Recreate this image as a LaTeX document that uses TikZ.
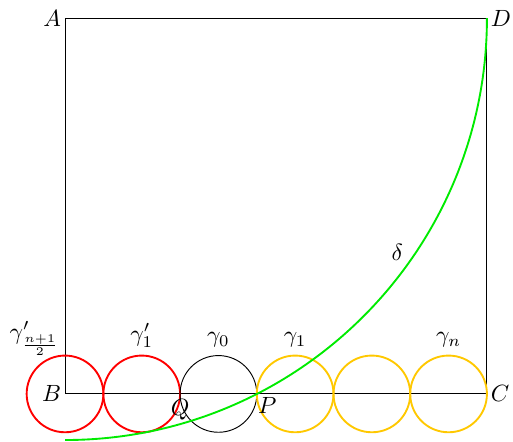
\documentclass[tikz,border=0pt]{standalone}
\usepackage{amsmath,amssymb}
\usepackage{tikz}
\usetikzlibrary{positioning,calc}
\definecolor{gold}{RGB}{255,200,0}
\definecolor{arcgreen}{RGB}{0,235,0}

\begin{document}
\begin{tikzpicture}[x=0.574cm,y=0.574cm]
						\useasboundingbox (-1.695,-1.251) rectangle (11.68,10.27);
						% corners of the rectangle
						\coordinate (B) at (0,0);
						\coordinate (C) at (11,0);
						\coordinate (D) at (11,{sqrt(96)});
						\coordinate (A) at (0,{sqrt(96)});
						\draw (A) -- (B) -- (C) -- (D) -- cycle;
						\node[left, inner sep=1.5pt] (lA) at (A) {$A$};
						\node[right, inner sep=1.5pt] (lD) at (D) {$D$};
						\node[left, inner sep=1.5pt] (lB) at (B) {$B$};
						\node[right, inner sep=1.5pt] (lC) at (C) {$C$};
						% circles along BC
						\foreach \i in {0,2} {
							\draw[thick, red] (\i,0) circle (1);
						}
						\draw (4,0) circle (1);
						\foreach \i in {6,8,10} {
							\draw[thick, gold] (\i,0) circle (1);
						}
						\draw[thick, arcgreen] (D) arc (0:-90:11);
						\coordinate (Q) at (3,0);
						\coordinate (P) at (5,0);
						\node[below=-1pt] (lQ) at (Q) {$Q$};
						\node[below right=-2pt and -3pt] (lP) at (P) {$P$};
						\node (lg) at (-0.8,1.45) {$\gamma'_{\frac{n+1}{2}}$};
						\node[above] (lg1p) at (2,1) {$\gamma'_1$};
						\node[above] (lg0) at (4,1) {$\gamma_0$};
						\node[above] (lg1) at (6,1) {$\gamma_1$};
						\node[above] (lgn) at (10,1) {$\gamma_n$};
						\node (ld) at (8.66,3.68) {$\delta$};
					\end{tikzpicture}
\end{document}
